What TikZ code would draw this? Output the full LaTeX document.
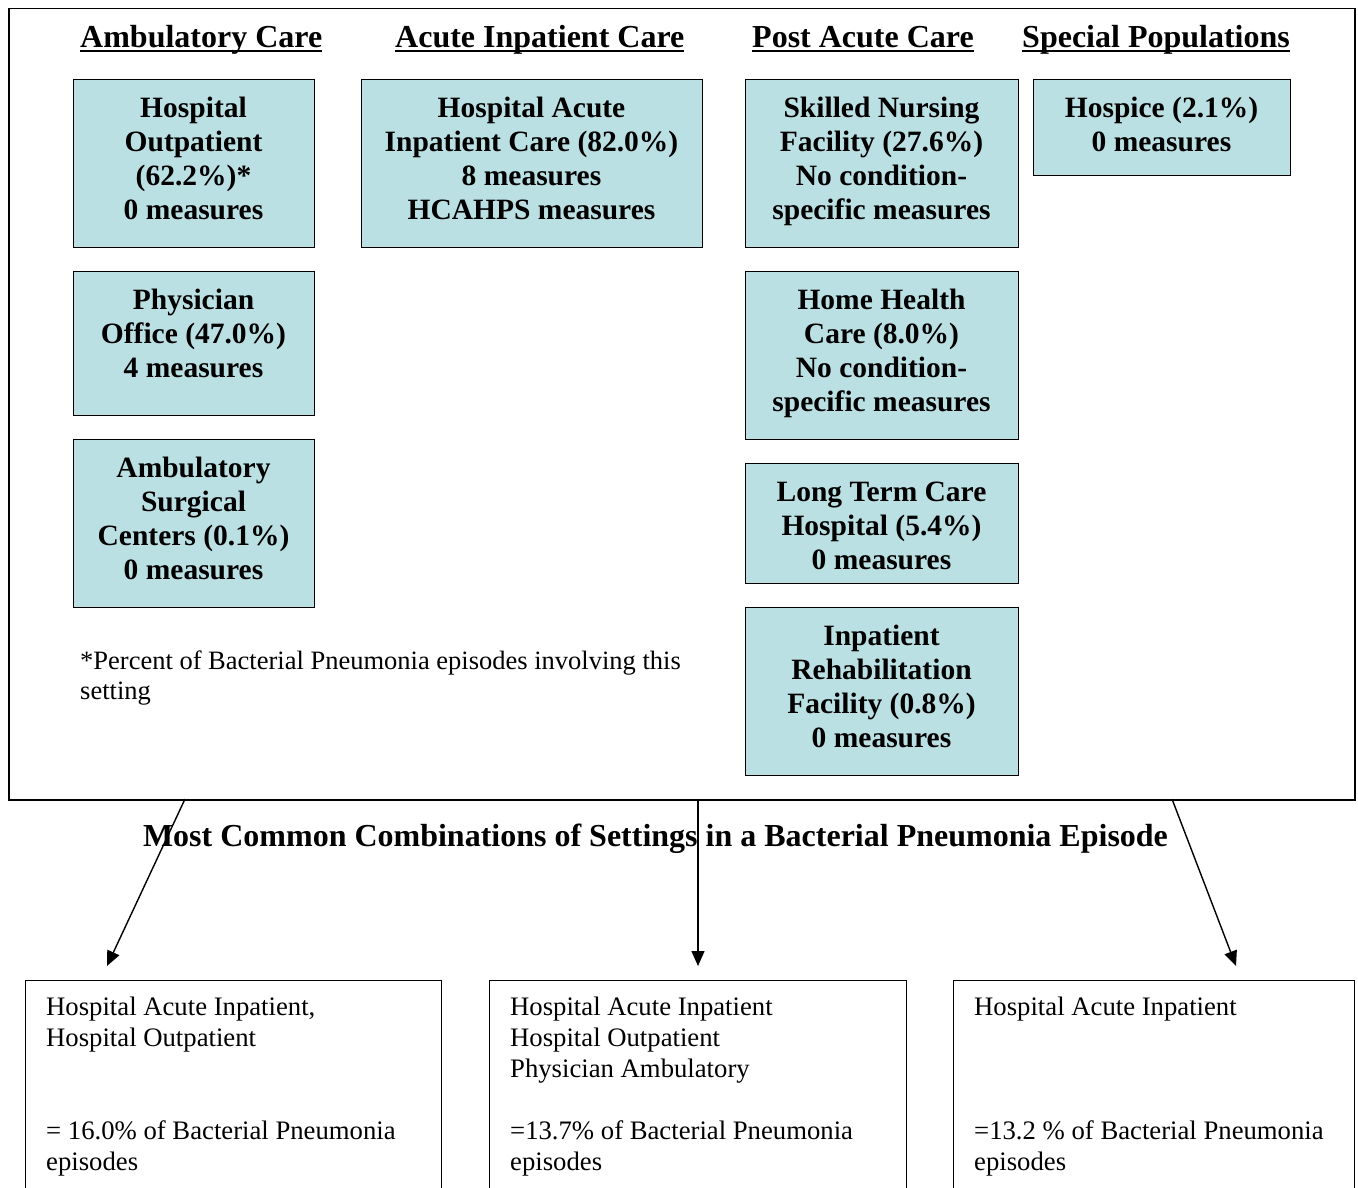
\documentclass[tikz,border=0pt]{standalone}
\usepackage{fontspec}
\setmainfont{Liberation Serif}
\usetikzlibrary{arrows.meta}
\definecolor{boxteal}{RGB}{187,224,227}
% underline drawn just below the baseline, crossing descenders
\newcommand\hdline[1]{\setbox0\hbox{#1}\rlap{\rule[-4pt]{\wd0}{2.2pt}}\box0}

\begin{document}
\begin{tikzpicture}[x=1pt,y=-1pt,
  frame/.style={draw=black, line width=1.5pt, inner sep=0pt, anchor=north west},
  sbox/.style={draw=black, line width=1.4pt, fill=boxteal, inner sep=0pt, anchor=north west},
  stext/.style={anchor=north, inner sep=0pt, align=center, font=\bfseries\fontsize{29.5}{34}\selectfont},
  head/.style={anchor=base west, inner sep=0pt, font=\bfseries\fontsize{32}{37}\selectfont},
  cbox/.style={draw=black, line width=1.4pt, inner sep=0pt, anchor=north west},
  ctext/.style={anchor=north west, inner sep=0pt, align=left, font=\fontsize{26.7}{31}\selectfont},
  conn/.style={line width=1.4pt, -{Triangle[length=15pt,width=13pt]}}]
\useasboundingbox (0,0) rectangle (1358,1188);
\clip (0,0) rectangle (1358,1188);

% outer frame holding the care settings
\node[frame, minimum width=1346pt, minimum height=791pt] (frame) at (8,8) {};

% column headings
\node[head] (h1) at (80,48) {\hdline{Ambulatory Care}};
\node[head] (h2) at (395,48) {\hdline{Acute Inpatient Care}};
\node[head] (h3) at (752,48) {\hdline{Post Acute Care}};
\node[head] (h4) at (1022,48) {\hdline{Special Populations}};

% ambulatory care settings
\node[sbox, minimum width=241pt, minimum height=168pt] (hop) at (73,79) {};
\node[stext] (hopt) at (193.5,93.4) {\strut Hospital\\Outpatient\\(62.2\%)*\\0 measures};
\node[sbox, minimum width=241pt, minimum height=144pt] (phy) at (73,271) {};
\node[stext] (phyt) at (193.5,285.7) {\strut Physician\\Office (47.0\%)\\4 measures};
\node[sbox, minimum width=241pt, minimum height=168pt] (asc) at (73,439) {};
\node[stext] (asct) at (193.5,453.8) {\strut Ambulatory\\Surgical\\Centers (0.1\%)\\0 measures};

% acute inpatient care
\node[sbox, minimum width=341pt, minimum height=168pt] (hai) at (361,79) {};
\node[stext] (hait) at (531.5,93.4) {\strut Hospital Acute\\Inpatient Care (82.0\%)\\8 measures\\HCAHPS measures};

% post acute care settings
\node[sbox, minimum width=273pt, minimum height=168pt] (snf) at (745,79) {};
\node[stext] (snft) at (881.5,93.4) {\strut Skilled Nursing\\Facility (27.6\%)\\No condition-\\specific measures};
\node[sbox, minimum width=273pt, minimum height=168pt] (hhc) at (745,271) {};
\node[stext] (hhct) at (881.5,285.7) {\strut Home Health\\Care (8.0\%)\\No condition-\\specific measures};
\node[sbox, minimum width=273pt, minimum height=120pt] (ltc) at (745,463) {};
\node[stext] (ltct) at (881.5,477.8) {\strut Long Term Care\\Hospital (5.4\%)\\0 measures};
\node[sbox, minimum width=273pt, minimum height=168pt] (irf) at (745,607) {};
\node[stext] (irft) at (881.5,621.8) {\strut Inpatient\\Rehabilitation\\Facility (0.8\%)\\0 measures};

% special populations
\node[sbox, minimum width=257pt, minimum height=96pt] (hsp) at (1033,79) {};
\node[stext] (hspt) at (1161.5,93.4) {\strut Hospice (2.1\%)\\0 measures};

% footnote
\node[ctext, font=\fontsize{26.5}{30}\selectfont] (note) at (80,648) {\strut *Percent of Bacterial Pneumonia episodes involving this\\setting};

% title of the lower part
\node[anchor=base, inner sep=0pt, font=\bfseries\fontsize{32}{37}\selectfont] (title) at (655.5,846)
  {Most Common Combinations of Settings in a Bacterial Pneumonia Episode};

% combination boxes
\node[cbox, minimum width=416pt, minimum height=260pt] (c1) at (25,980) {};
\node[ctext] (c1t) at (46,993.3) {\strut Hospital Acute Inpatient,\\Hospital Outpatient\\[62pt]= 16.0\% of Bacterial Pneumonia\\episodes};
\node[cbox, minimum width=417pt, minimum height=260pt] (c2) at (489,980) {};
\node[ctext] (c2t) at (510,993.3) {\strut Hospital Acute Inpatient\\Hospital Outpatient\\Physician Ambulatory\\[31pt]=13.7\% of Bacterial Pneumonia\\episodes};
\node[cbox, minimum width=401pt, minimum height=260pt] (c3) at (953,980) {};
\node[ctext] (c3t) at (974,993.3) {\strut Hospital Acute Inpatient\\[93pt]=13.2 \% of Bacterial Pneumonia\\episodes};

% connectors from the frame down to the combinations
\coordinate (s1) at (185,799);
\coordinate (e1) at (107,966);
\coordinate (s2) at (698,799);
\coordinate (e2) at (698,966);
\coordinate (s3) at (1172,799);
\coordinate (e3) at (1236,966);
\draw[conn] (s1) -- (e1);
\draw[conn] (s2) -- (e2);
\draw[conn] (s3) -- (e3);
\end{tikzpicture}
\end{document}
